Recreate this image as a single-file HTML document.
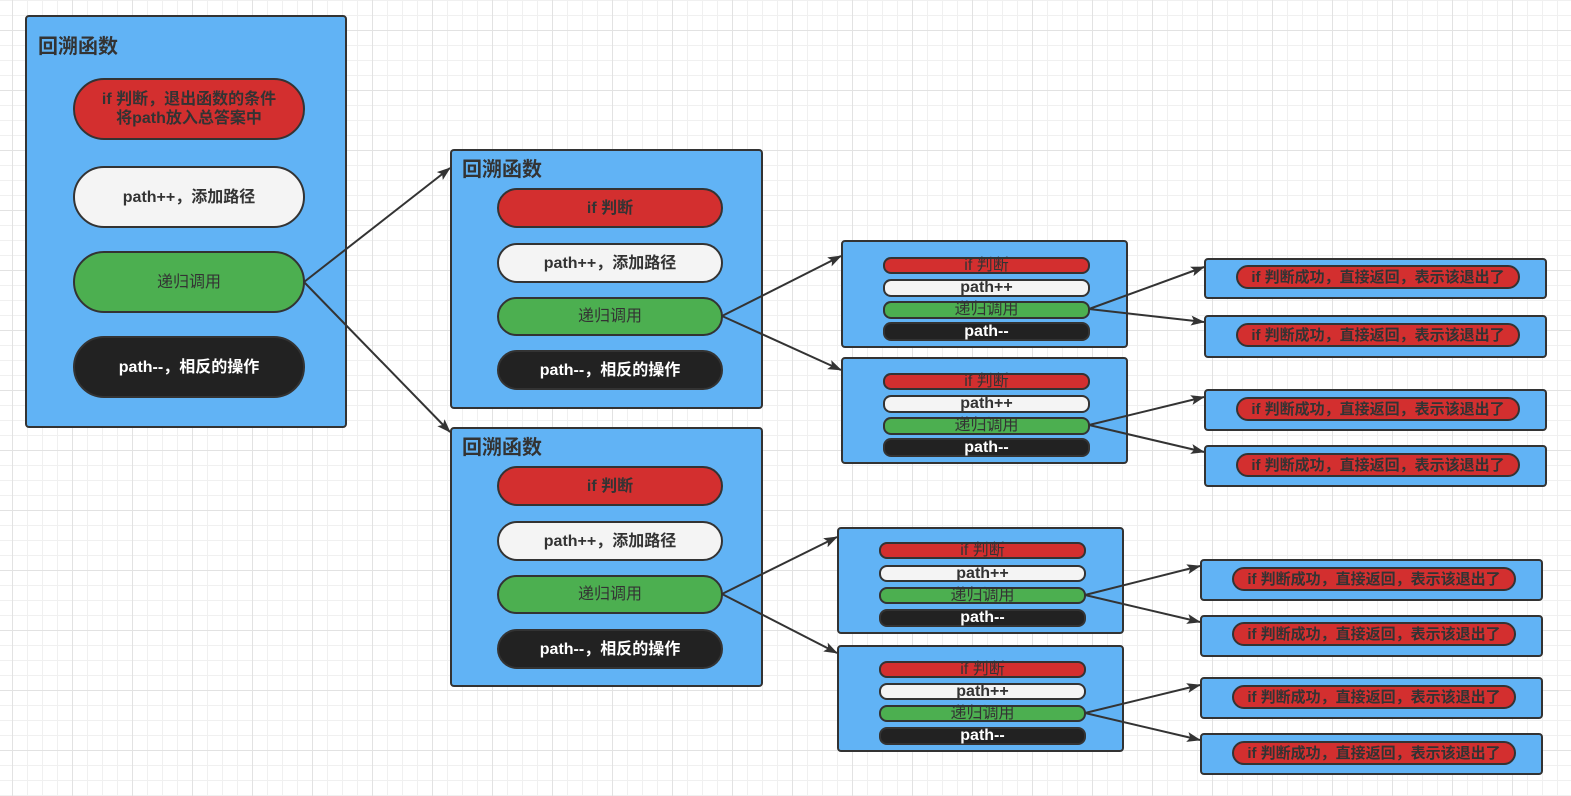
<!DOCTYPE html>
<html><head><meta charset="utf-8"><style>
body{margin:0;width:1571px;height:796px;position:relative;overflow:hidden;background-color:#fff;
background-image:linear-gradient(to right,#e2e2e2 1px,transparent 1px),linear-gradient(to bottom,#e2e2e2 1px,transparent 1px),linear-gradient(to right,#f0f0f0 1px,transparent 1px),linear-gradient(to bottom,#f0f0f0 1px,transparent 1px);
background-size:60px 60px,60px 60px,15px 15px,15px 15px;
background-position:12px 30px,12px 30px,12px 0,12px 0;
font-family:"Liberation Sans","Noto Sans CJK SC",sans-serif;}
.b{position:absolute;background:#61b3f5;border:2px solid #333;border-radius:4px;box-sizing:border-box}
.t{position:absolute;font-weight:bold;font-size:20px;color:#333}
.p{position:absolute;box-sizing:border-box;border:2px solid #333;border-radius:20px;display:flex;align-items:center;justify-content:center;font-weight:bold;font-size:16px;color:#333;text-align:center;line-height:19px;white-space:nowrap}
.r{background:#d32f2f}.w{background:#f4f4f4}.g{background:#4caf50}.k{background:#222;color:#fff}
.s{font-size:16px;border-radius:8px;line-height:14px}
.d{font-size:15px}
svg{position:absolute;left:0;top:0}
</style></head><body>
<div class="b" style="left:25px;top:15px;width:322px;height:413px"></div>
<div class="t" style="left:38px;top:30px">回溯函数</div>
<div class="p r" style="left:73px;top:78px;width:232px;height:62px;border-radius:31px">if 判断，退出函数的条件<br>将path放入总答案中</div>
<div class="p w" style="left:73px;top:166px;width:232px;height:62px;border-radius:31px">path++，添加路径</div>
<div class="p g" style="left:73px;top:251px;width:232px;height:62px;border-radius:31px;font-weight:normal">递归调用</div>
<div class="p k" style="left:73px;top:336px;width:232px;height:62px;border-radius:31px">path--，相反的操作</div>

<div class="b" style="left:450px;top:149px;width:313px;height:260px"></div>
<div class="t" style="left:462px;top:153px">回溯函数</div>
<div class="p r" style="left:497px;top:188px;width:226px;height:40px">if 判断</div>
<div class="p w" style="left:497px;top:243px;width:226px;height:40px">path++，添加路径</div>
<div class="p g" style="left:497px;top:297px;width:226px;height:39px;font-weight:normal">递归调用</div>
<div class="p k" style="left:497px;top:350px;width:226px;height:40px">path--，相反的操作</div>

<div class="b" style="left:450px;top:427px;width:313px;height:260px"></div>
<div class="t" style="left:462px;top:431px">回溯函数</div>
<div class="p r" style="left:497px;top:466px;width:226px;height:40px">if 判断</div>
<div class="p w" style="left:497px;top:521px;width:226px;height:40px">path++，添加路径</div>
<div class="p g" style="left:497px;top:575px;width:226px;height:39px;font-weight:normal">递归调用</div>
<div class="p k" style="left:497px;top:629px;width:226px;height:40px">path--，相反的操作</div>

<div class="b" style="left:841px;top:240px;width:287px;height:108px"></div>
<div class="p r s" style="left:883px;top:257px;width:207px;height:17px;font-weight:normal">if 判断</div>
<div class="p w s" style="left:883px;top:279px;width:207px;height:18px">path++</div>
<div class="p g s" style="left:883px;top:301px;width:207px;height:18px;font-weight:normal">递归调用</div>
<div class="p k s" style="left:883px;top:322px;width:207px;height:19px">path--</div>

<div class="b" style="left:841px;top:357px;width:287px;height:107px"></div>
<div class="p r s" style="left:883px;top:373px;width:207px;height:17px;font-weight:normal">if 判断</div>
<div class="p w s" style="left:883px;top:395px;width:207px;height:18px">path++</div>
<div class="p g s" style="left:883px;top:417px;width:207px;height:18px;font-weight:normal">递归调用</div>
<div class="p k s" style="left:883px;top:438px;width:207px;height:19px">path--</div>

<div class="b" style="left:837px;top:527px;width:287px;height:107px"></div>
<div class="p r s" style="left:879px;top:542px;width:207px;height:17px;font-weight:normal">if 判断</div>
<div class="p w s" style="left:879px;top:565px;width:207px;height:17px">path++</div>
<div class="p g s" style="left:879px;top:587px;width:207px;height:17px;font-weight:normal">递归调用</div>
<div class="p k s" style="left:879px;top:609px;width:207px;height:18px">path--</div>

<div class="b" style="left:837px;top:645px;width:287px;height:107px"></div>
<div class="p r s" style="left:879px;top:661px;width:207px;height:17px;font-weight:normal">if 判断</div>
<div class="p w s" style="left:879px;top:683px;width:207px;height:17px">path++</div>
<div class="p g s" style="left:879px;top:705px;width:207px;height:17px;font-weight:normal">递归调用</div>
<div class="p k s" style="left:879px;top:727px;width:207px;height:18px">path--</div>

<div class="b" style="left:1204px;top:258px;width:343px;height:41px"></div>
<div class="p r d" style="left:1236px;top:265px;width:284px;height:24px">if 判断成功，直接返回，表示该退出了</div>
<div class="b" style="left:1204px;top:315px;width:343px;height:43px"></div>
<div class="p r d" style="left:1236px;top:323px;width:284px;height:24px">if 判断成功，直接返回，表示该退出了</div>
<div class="b" style="left:1204px;top:389px;width:343px;height:42px"></div>
<div class="p r d" style="left:1236px;top:397px;width:284px;height:24px">if 判断成功，直接返回，表示该退出了</div>
<div class="b" style="left:1204px;top:445px;width:343px;height:42px"></div>
<div class="p r d" style="left:1236px;top:453px;width:284px;height:24px">if 判断成功，直接返回，表示该退出了</div>

<div class="b" style="left:1200px;top:559px;width:343px;height:42px"></div>
<div class="p r d" style="left:1232px;top:567px;width:284px;height:24px">if 判断成功，直接返回，表示该退出了</div>
<div class="b" style="left:1200px;top:615px;width:343px;height:42px"></div>
<div class="p r d" style="left:1232px;top:622px;width:284px;height:24px">if 判断成功，直接返回，表示该退出了</div>
<div class="b" style="left:1200px;top:677px;width:343px;height:42px"></div>
<div class="p r d" style="left:1232px;top:685px;width:284px;height:24px">if 判断成功，直接返回，表示该退出了</div>
<div class="b" style="left:1200px;top:733px;width:343px;height:42px"></div>
<div class="p r d" style="left:1232px;top:741px;width:284px;height:24px">if 判断成功，直接返回，表示该退出了</div>

<svg width="1571" height="796">
<defs><marker id="a" markerWidth="14" markerHeight="10" refX="13" refY="5" orient="auto" markerUnits="userSpaceOnUse"><path d="M0,0 L14,5 L0,10 L3,5z" fill="#333"/></marker></defs>
<g stroke="#333" stroke-width="2" fill="none" marker-end="url(#a)">
<line x1="304" y1="282" x2="450" y2="168"/>
<line x1="304" y1="282" x2="450" y2="432"/>
<line x1="722" y1="316" x2="841" y2="256"/>
<line x1="722" y1="316" x2="841" y2="370"/>
<line x1="722" y1="594" x2="837" y2="537"/>
<line x1="722" y1="594" x2="837" y2="653"/>
<line x1="1089" y1="309" x2="1204" y2="267"/>
<line x1="1089" y1="309" x2="1204" y2="322"/>
<line x1="1089" y1="425" x2="1204" y2="397"/>
<line x1="1089" y1="425" x2="1204" y2="452"/>
<line x1="1085" y1="595" x2="1200" y2="566"/>
<line x1="1085" y1="595" x2="1200" y2="622"/>
<line x1="1085" y1="713" x2="1200" y2="685"/>
<line x1="1085" y1="713" x2="1200" y2="740"/>
</g></svg>
</body></html>
